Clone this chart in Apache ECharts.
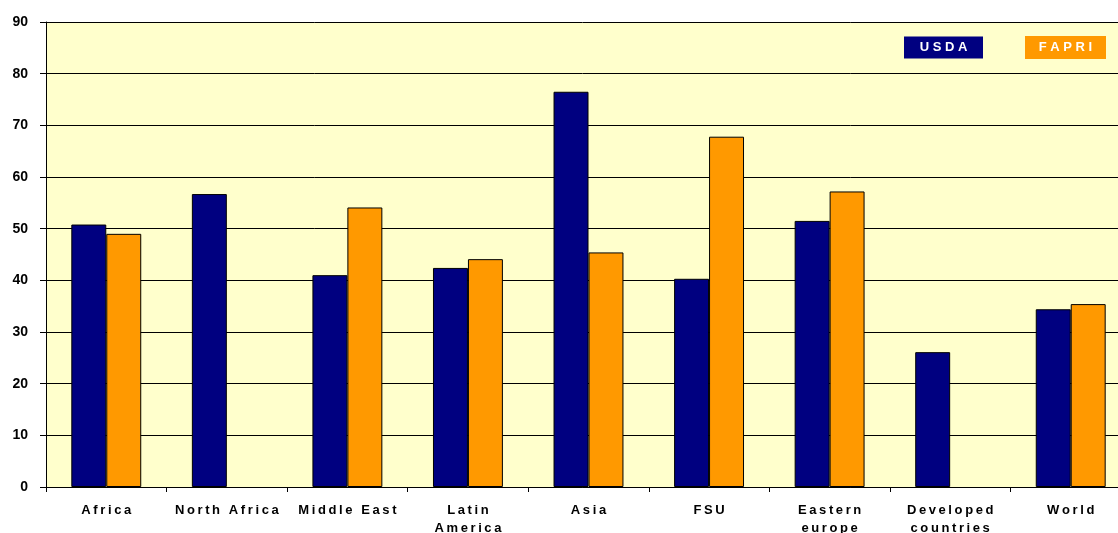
<!DOCTYPE html>
<html>
<head>
<meta charset="utf-8">
<script src="https://cdn.jsdelivr.net/npm/echarts@6/dist/echarts.min.js"></script>
<style>
html,body{margin:0;padding:0;background:#fff}
#chart{width:1118px;height:533px}
</style>
</head>
<body>
<div id="chart"></div>
<script>
var categories=["Africa","North Africa","Middle East","Latin\nAmerica","Asia","FSU","Eastern\neurope","Developed\ncountries","World"];
var usda=[50.8,56.7,41.0,42.4,76.5,40.3,51.5,26.1,34.4];
var fapri=[49.0,'-',54.1,44.1,45.4,67.8,57.2,'-',35.4];
var yTicks=[0,10,20,30,40,50,60,70,80,90];

// spread letters a bit, like the original
function spaced(s){
	return String(s).split('\n').map(function(line){return line.split('').join('\u2009');}).join('\n');
}

var myChart=echarts.init(document.getElementById('chart'));
var option={
	animation:false,
	textStyle:{fontFamily:'Liberation Sans, Arial, sans-serif'},
	grid:{
		left:46,
		top:22,
		right:-13,
		bottom:46,
		outerBoundsMode:'none',
		containLabel:false,
		show:true,
		backgroundColor:'#FFFFCC',
		borderWidth:0
	},
	legend:{
		left:894,
		top:31,
		itemGap:37,
		icon:'none',
		itemWidth:0,
		itemHeight:0,
		selectedMode:false,
		formatter:function(n){return n=='USDA'?'{u|U S D A}':'{f|F A P R I}';},
		textStyle:{
			rich:{
				u:{width:79,height:22,lineHeight:22,align:'center',backgroundColor:'#000080',color:'#fff',fontWeight:'bold',fontSize:13},
				f:{width:81,height:23,lineHeight:23,align:'center',backgroundColor:'#FF9900',color:'#fff',fontWeight:'bold',fontSize:13}
			}
		},
		data:['USDA','FAPRI']
	},
	xAxis:{
		type:'category',
		data:categories,
		axisLine:{lineStyle:{color:'#000',width:1}},
		axisTick:{show:true,length:5,lineStyle:{color:'#000'}},
		axisLabel:{
			color:'#000',
			fontWeight:'bold',
			fontSize:13,
			margin:14,
			lineHeight:18,
			interval:0,
			formatter:function(v){return spaced(v);}
		}
	},
	yAxis:{
		type:'value',
		min:yTicks[0],
		max:yTicks[yTicks.length-1],
		interval:10,
		axisLine:{show:true,lineStyle:{color:'#000',width:1}},
		axisTick:{show:true,length:6,lineStyle:{color:'#000'}},
		axisLabel:{color:'#000',fontWeight:'bold',fontSize:14,margin:18},
		splitLine:{show:true,lineStyle:{color:'#000',width:1}}
	},
	series:[
		{
			name:'USDA',
			type:'bar',
			data:usda,
			barGap:'0%',
			barCategoryGap:'42%',
			itemStyle:{color:'#000080',borderColor:'#000',borderWidth:1}
		},
		{
			name:'FAPRI',
			type:'bar',
			data:fapri,
			itemStyle:{color:'#FF9900',borderColor:'#000',borderWidth:1}
		}
	]
};
myChart.setOption(option);
</script>
</body>
</html>
